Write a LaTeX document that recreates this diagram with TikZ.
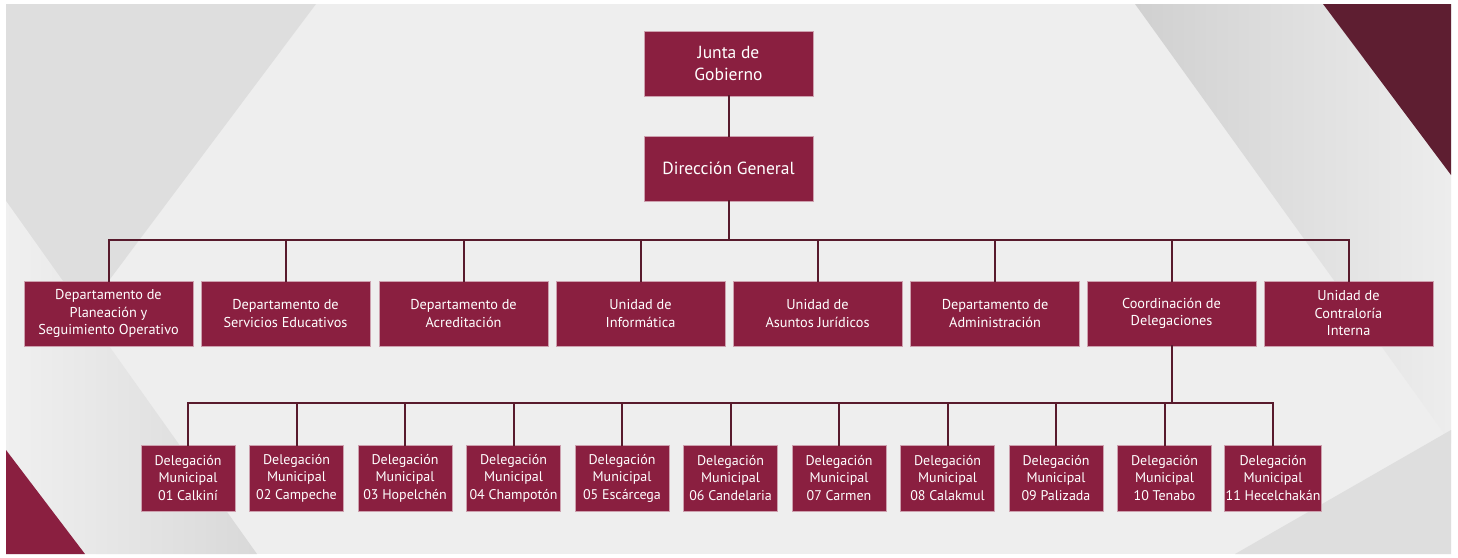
\documentclass[tikz,border=0pt]{standalone}
\usepackage{fontspec}
\setmainfont{PT Sans}
\usetikzlibrary{positioning}

\definecolor{guinda}{RGB}{138,31,64}
\definecolor{guindaosc}{RGB}{94,30,49}
\definecolor{linea}{RGB}{88,26,44}
\definecolor{orilla}{RGB}{205,160,174}
\definecolor{fondo}{RGB}{238,238,238}
\definecolor{gris}{RGB}{222,222,222}
\definecolor{grisosc}{RGB}{208,208,208}

\tikzset{
  caja/.style={fill=guinda, draw=orilla, line width=0.6pt, text=white,
    align=center, inner sep=1pt},
  jefe/.style={caja, minimum width=169pt, minimum height=65pt,
    font=\fontsize{17.5}{22}\selectfont},
  depto/.style={caja, minimum width=169pt, minimum height=65pt,
    font=\fontsize{14.3}{17.5}\selectfont},
  deleg/.style={caja, minimum width=94pt, minimum height=66pt,
    font=\fontsize{14}{17.5}\selectfont},
  rama/.style={draw=linea, line width=2pt, line cap=rect}
}

\begin{document}
\begin{tikzpicture}[x=1pt, y=-1pt]
  \useasboundingbox (0,0) rectangle (1458,557);
  %% fondo
  \fill[white] (0,0) rectangle (1458,557);
  \fill[fondo] (6,4) rectangle (1451,554);
  \fill[gris] (6,4) -- (316,4) -- (6,418) -- cycle;
  \shade[left color=gray!12, right color=gray!30] (6,201) -- (257,554) -- (6,554) -- cycle;
  \fill[guinda] (6,450) -- (85,554) -- (6,554) -- cycle;
  \shade[left color=grisosc, right color=gray!14] (1135,4) -- (1451,4) -- (1451,443) -- cycle;
  \fill[guindaosc] (1323,4) -- (1451,4) -- (1451,175) -- cycle;
  \fill[gris] (1235,554) -- (1451,430) -- (1451,554) -- cycle;

  %% direccion
  \node[jefe] (jg) at (728.5,63.5) {Junta de\\Gobierno};
  \node[jefe] (dg) at (728.5,168.5) {Dirección General};

  %% departamentos
  \node[depto] (d1) at (108.5,313.5) {Departamento de\\Planeación y\\Seguimiento Operativo};
  \node[depto] (d2) at (285.5,313.5) {Departamento de\\Servicios Educativos};
  \node[depto] (d3) at (463.5,313.5) {Departamento de\\Acreditación};
  \node[depto] (d4) at (640.5,313.5) {Unidad de\\Informática};
  \node[depto] (d5) at (817.5,313.5) {Unidad de\\Asuntos Jurídicos};
  \node[depto] (d6) at (995,313.5) {Departamento de\\Administración};
  \node[depto] (d7) at (1171.5,313.5) {Coordinación de\\Delegaciones};
  \node[depto] (d8) at (1348.5,313.5) {Unidad de\\Contraloría\\Interna};

  %% delegaciones
  \node[deleg] (m1) at (188,478) {Delegación\\Municipal\\01 Calkiní};
  \node[deleg] (m2) at (296.5,478) {Delegación\\Municipal\\02 Campeche};
  \node[deleg] (m3) at (405,478) {Delegación\\Municipal\\03 Hopelchén};
  \node[deleg] (m4) at (513.5,478) {Delegación\\Municipal\\04 Champotón};
  \node[deleg] (m5) at (622,478) {Delegación\\Municipal\\05 Escárcega};
  \node[deleg] (m6) at (730.5,478) {Delegación\\Municipal\\06 Candelaria};
  \node[deleg] (m7) at (839,478) {Delegación\\Municipal\\07 Carmen};
  \node[deleg] (m8) at (947.5,478) {Delegación\\Municipal\\08 Calakmul};
  \node[deleg] (m9) at (1056,478) {Delegación\\Municipal\\09 Palizada};
  \node[deleg] (m10) at (1164.5,478) {Delegación\\Municipal\\10 Tenabo};
  \node[deleg] (m11) at (1273,478) {Delegación\\Municipal\\11 Hecelchakán};

  %% lineas
  \coordinate (bus1) at (728.5,240);
  \coordinate (bus2) at (1171.5,403);
  \draw[rama] (jg) -- (dg);
  \draw[rama] (dg) -- (bus1);
  \draw[rama] (d1.north) -- (d1.north |- bus1) -- (d8.north |- bus1) -- (d8.north);
    \draw[rama] (d2.north) -- (d2.north |- bus1);
    \draw[rama] (d3.north) -- (d3.north |- bus1);
    \draw[rama] (d4.north) -- (d4.north |- bus1);
    \draw[rama] (d5.north) -- (d5.north |- bus1);
    \draw[rama] (d6.north) -- (d6.north |- bus1);
    \draw[rama] (d7.north) -- (d7.north |- bus1);

  \draw[rama] (d7) -- (bus2);
  \draw[rama] (m1.north) -- (m1.north |- bus2) -- (m11.north |- bus2) -- (m11.north);
    \draw[rama] (m2.north) -- (m2.north |- bus2);
    \draw[rama] (m3.north) -- (m3.north |- bus2);
    \draw[rama] (m4.north) -- (m4.north |- bus2);
    \draw[rama] (m5.north) -- (m5.north |- bus2);
    \draw[rama] (m6.north) -- (m6.north |- bus2);
    \draw[rama] (m7.north) -- (m7.north |- bus2);
    \draw[rama] (m8.north) -- (m8.north |- bus2);
    \draw[rama] (m9.north) -- (m9.north |- bus2);
    \draw[rama] (m10.north) -- (m10.north |- bus2);
\end{tikzpicture}
\end{document}
